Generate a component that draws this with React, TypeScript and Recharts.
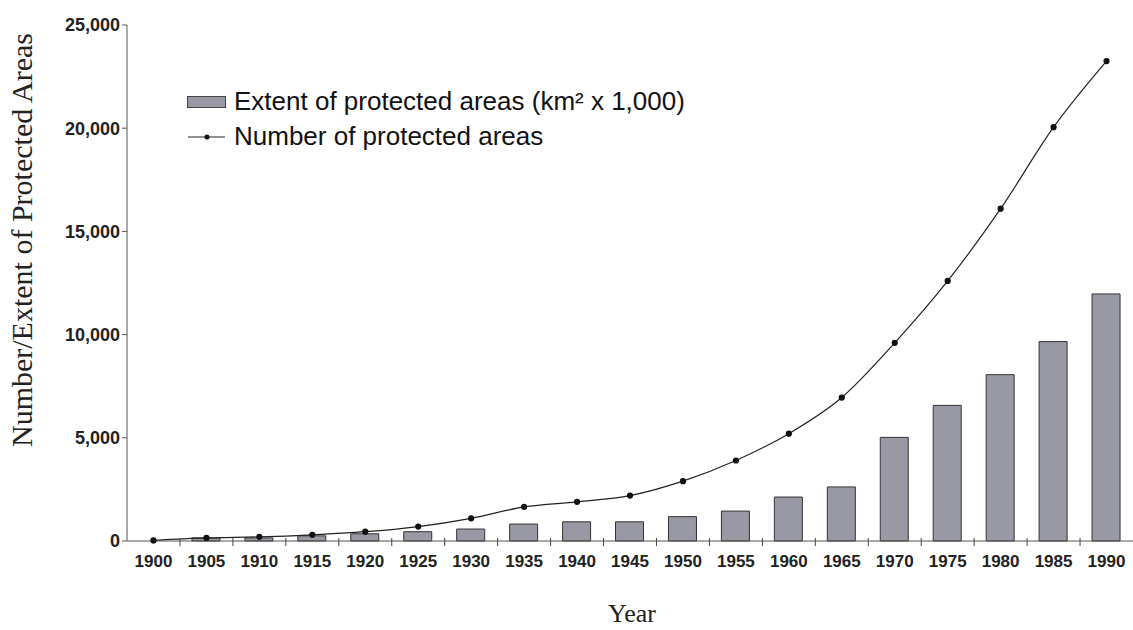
import React from 'react'
import {
  ComposedChart,
  Bar,
  Line,
  XAxis,
  YAxis
} from 'recharts'

const years = ['1900', '1905', '1910', '1915', '1920', '1925', '1930', '1935', '1940', '1945',
  '1950', '1955', '1960', '1965', '1970', '1975', '1980', '1985', '1990']
const extent = [0, 150, 150, 250, 350, 450, 580, 820, 930, 930,
  1180, 1450, 2130, 2620, 5020, 6570, 8060, 9660, 11970]
const count = [30, 150, 200, 300, 450, 700, 1100, 1650, 1900, 2200,
  2900, 3900, 5200, 6950, 9600, 12600, 16100, 20050, 23250]
const yTicks = [0, 5000, 10000, 15000, 20000, 25000]

const W = 1133
const H = 630
const LEFT = 127
const RIGHT = 0
const STEP = (W - LEFT - RIGHT) / years.length

const data = years.map((year, i) => ({ year, extent: extent[i], count: count[i] }))

const tickFont = '"Liberation Sans", Arial, sans-serif'
const serif = '"Liberation Serif", "Times New Roman", serif'

const XTick = ({ x, y, payload, index }: any) => (
  <g>
    <text x={x} y={y + 18} textAnchor="middle" fontSize={17} fontWeight="bold"
      fontFamily={tickFont} fill="#222">
      {payload.value}
    </text>
    {index < years.length - 1 && (
      <line x1={x + STEP / 2} x2={x + STEP / 2} y1={y - 11} y2={y - 3} stroke="#444" />
    )}
  </g>
)

const YLabel = () => (
  <text x={32} y={240} transform="rotate(-90 32 240)" textAnchor="middle"
    fontSize={30} fontFamily={serif} fill="#222">
    Number/Extent of Protected Areas
  </text>
)

const XLabel = () => (
  <text x={632} y={622} textAnchor="middle" fontSize={26} fontFamily={serif} fill="#222">
    Year
  </text>
)

// legend sits over the plot, so it is drawn as an overlay and takes no room from the chart
const LegendBox = () => (
  <div style={{
    position: 'absolute', left: 187, top: 84, fontFamily: tickFont, fontSize: 26,
    color: '#111', lineHeight: '35px', whiteSpace: 'nowrap'
  }}>
    <div style={{ display: 'flex', alignItems: 'center' }}>
      <span style={{ display: 'inline-block', width: 37, height: 10, background: '#9999a5', border: '1px solid #444', marginRight: 8 }} />
      Extent of protected areas (km² x 1,000)
    </div>
    <div style={{ display: 'flex', alignItems: 'center' }}>
      <svg width={39} height={10} style={{ marginRight: 8 }}>
        <line x1={1} x2={38} y1={5} y2={5} stroke="#222" strokeWidth={1.2} />
        <circle cx={20} cy={5} r={2.5} fill="#111" />
      </svg>
      Number of protected areas
    </div>
  </div>
)

export default function App() {
  return (
    <div style={{ position: 'absolute', left: 0, top: 0, width: W, height: H, background: '#fff' }}>
      <ComposedChart width={W} height={H} data={data}
        margin={{ top: 25, right: RIGHT, left: 0, bottom: 0 }}>
        <XAxis dataKey="year" height={89} tick={<XTick />} tickLine={false}
          axisLine={{ stroke: '#555' }} interval={0} label={<XLabel />} />
        <YAxis width={LEFT} domain={[0, 25000]} ticks={yTicks} interval={0}
          tickFormatter={(v: number) => v.toLocaleString('en-US')}
          tick={{ fontSize: 18, fontWeight: 'bold', fontFamily: tickFont, fill: '#222' }}
          tickSize={5} tickMargin={2} tickLine={{ stroke: '#555' }}
          axisLine={{ stroke: '#555' }} label={<YLabel />} />
        <Bar dataKey="extent" barSize={28} fill="#9999a5" stroke="#333" strokeWidth={1}
          isAnimationActive={false} />
        <Line type="monotone" dataKey="count" stroke="#222" strokeWidth={1.2}
          dot={{ r: 2.5, fill: '#111', stroke: '#111' }} isAnimationActive={false} />
      </ComposedChart>
      <LegendBox />
    </div>
  )
}
